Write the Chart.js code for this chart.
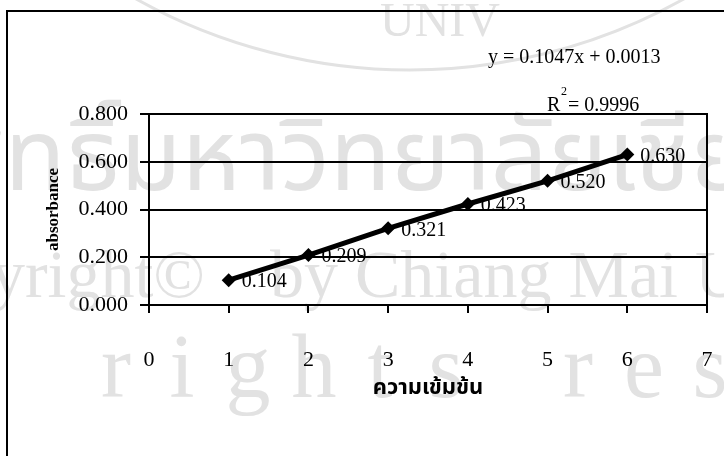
<!DOCTYPE html>
<html>
<head>
<meta charset="utf-8">
<script src="https://cdn.jsdelivr.net/npm/chart.js@4"></script>
<style>
  html, body { margin: 0; padding: 0; background: #fff; overflow: hidden; }
  #wrap { width: 724px; height: 456px; }
</style>
</head>
<body>
<div id="wrap"><canvas id="chart" width="724" height="456"></canvas></div>
<script>
// data
const concentrations = [1, 2, 3, 4, 5, 6];
const absorbance = [0.104, 0.209, 0.321, 0.423, 0.520, 0.630];
const xTicks = [0, 1, 2, 3, 4, 5, 6, 7];
const yTicks = [0, 0.2, 0.4, 0.6, 0.8];
const xTitle = 'ความเข้มข้น';
const yTitle = 'absorbance';
const equationText = 'y = 0.1047x + 0.0013';
const rSquaredValue = '= 0.9996';

const serif = '"Liberation Serif", "Times New Roman", serif';
const thai = '"Noto Sans Thai", "Noto Serif Thai", Loma, Garuda, Norasi, "Tlwg Typo", "Liberation Serif", sans-serif';
const grey = '#e2e2e2';

// scanned page background: watermark + outer frame
const pagePlugin = {
    id: 'page',
    beforeDraw(chart) {
        const ctx = chart.ctx;
        ctx.save();
        ctx.fillStyle = '#fff';
        ctx.fillRect(0, 0, chart.width, chart.height);

        ctx.strokeStyle = grey;
        ctx.lineWidth = 3;
        ctx.beginPath();
        ctx.arc(410, -493, 563, 0.2 * Math.PI, 0.8 * Math.PI);
        ctx.stroke();

        ctx.fillStyle = grey;
        ctx.textBaseline = 'alphabetic';
        ctx.textAlign = 'left';
        ctx.font = '48px ' + serif;
        ctx.fillText('UNIV', 380, 36);

        ctx.font = '100px ' + thai;
        const thaiMark = 'ลิขสิทธิ์มหาวิทยาลัยเชียงใหม่';
        ctx.fillText(thaiMark, 120 - ctx.measureText('ลิขสิทธิ์').width, 190);

        ctx.font = '68px ' + serif;
        ctx.textAlign = 'right';
        ctx.fillText('Copyright©', 205, 297);
        ctx.textAlign = 'left';
        ctx.fillText('by Chiang Mai University', 270, 297);

        ctx.font = '90px ' + serif;
        ctx.textAlign = 'center';
        const mark = 'rights reserved';
        for (let i = 0; i < mark.length; i++) {
            ctx.fillText(mark[i], 116 + i * 66, 397);
        }

        ctx.strokeStyle = '#000';
        ctx.lineWidth = 2;
        ctx.strokeRect(7, 11, 900, 700);
        ctx.restore();
    },
    afterDatasetsDraw(chart) {
        const ctx = chart.ctx;
        const area = chart.chartArea;
        ctx.save();
        // plot frame top + right
        ctx.strokeStyle = '#000';
        ctx.lineWidth = 2;
        ctx.beginPath();
        ctx.moveTo(area.left, area.top);
        ctx.lineTo(area.right, area.top);
        ctx.lineTo(area.right, area.bottom);
        ctx.stroke();

        // point labels
        ctx.fillStyle = '#000';
        ctx.font = '20px ' + serif;
        ctx.textAlign = 'left';
        ctx.textBaseline = 'middle';
        chart.getDatasetMeta(0).data.forEach((pt, i) => {
            ctx.fillText(absorbance[i].toFixed(3), pt.x + 13, pt.y + 2);
        });

        // trendline equation
        ctx.fillText(equationText, 488, 58);
        ctx.fillText('R', 547, 106);
        ctx.fillText(rSquaredValue, 568, 106);
        ctx.font = '12px ' + serif;
        ctx.fillText('2', 561, 92);
        ctx.restore();
    }
};

new Chart(document.getElementById('chart'), {
    type: 'scatter',
    data: {
        datasets: [{
            data: concentrations.map((x, i) => ({ x: x, y: absorbance[i] })),
            showLine: true,
            borderColor: '#000',
            borderWidth: 5,
            backgroundColor: '#000',
            pointStyle: 'rectRot',
            pointRadius: 7,
            pointBorderWidth: 0
        }]
    },
    options: {
        responsive: false,
        animation: false,
        layout: { padding: { top: 114, right: 17, bottom: 0, left: 0 } },
        plugins: { legend: { display: false }, tooltip: { enabled: false } },
        scales: {
            x: {
                type: 'linear',
                min: 0,
                max: 7,
                afterBuildTicks: s => { s.ticks = xTicks.map(v => ({ value: v })); },
                // labels sit far below the axis; keep that gap from eating the right margin
                afterFit: s => { s.height = 151; s.paddingLeft = 0; s.paddingRight = 0; },
                ticks: { color: '#000', font: { family: serif, size: 22 }, padding: 34, maxRotation: 0 },
                grid: { drawOnChartArea: false, drawTicks: true, tickLength: 8, color: '#000', lineWidth: 2 },
                border: { color: '#000', width: 2 },
                title: { display: true, text: xTitle, color: '#000', font: { family: thai, size: 22, weight: 'bold' }, padding: { top: 0, bottom: 53 } }
            },
            y: {
                min: 0,
                max: 0.8,
                afterBuildTicks: s => { s.ticks = yTicks.map(v => ({ value: v })); },
                afterFit: s => { s.width = 149; },
                ticks: { color: '#000', font: { family: serif, size: 22 }, padding: 12, callback: v => v.toFixed(3) },
                grid: { color: '#000', lineWidth: 2, tickLength: 9 },
                border: { color: '#000', width: 2 },
                title: { display: true, text: yTitle, color: '#000', font: { family: serif, size: 17, weight: 'bold' }, padding: { top: 43, bottom: 0 } }
            }
        }
    },
    plugins: [pagePlugin]
});
</script>
</body>
</html>
